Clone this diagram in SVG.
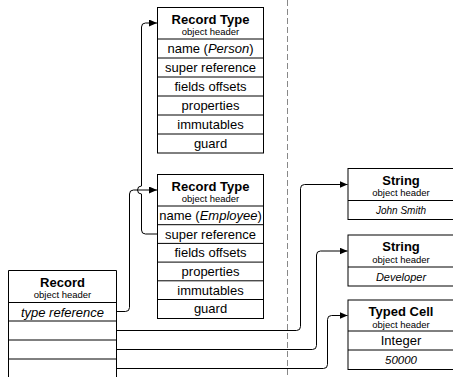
<svg xmlns="http://www.w3.org/2000/svg" width="453" height="377" viewBox="0 0 453 377">
<style>
.box{fill:#fff;stroke:#000;stroke-width:1}
.ln{stroke:#000;stroke-width:1;fill:none}
.t{font-family:"Liberation Sans",Arial,sans-serif;fill:#000;text-anchor:middle}
.h{font-size:13px;font-weight:bold}
.s{font-size:9.5px}
.r{font-size:13px}
.i{font-style:italic}
.c{stroke:#000;stroke-width:1;fill:none;marker-end:url(#arr)}
</style>
<defs>
<marker id="arr" markerWidth="9" markerHeight="8" refX="8" refY="3.5" orient="auto" markerUnits="userSpaceOnUse">
<path d="M0,0 L8,3.5 L0,7 z" fill="#000"/>
</marker>
</defs>
<line x1="287.5" y1="0" x2="287.5" y2="377" stroke="#888" stroke-width="1" stroke-dasharray="6 3"/>

<g id="recordtype-person">
<rect class="box" x="157.5" y="7.5" width="106" height="145.5"/>
<path class="ln" d="M157.5,39 H263.5 M157.5,58 H263.5 M157.5,77 H263.5 M157.5,96 H263.5 M157.5,115 H263.5 M157.5,134 H263.5"/>
<text class="t h" x="210.5" y="23.5">Record Type</text>
<text class="t s" x="210.5" y="35">object header</text>
<text class="t r" x="210.5" y="53">name (<tspan class="i">Person</tspan>)</text>
<text class="t r" x="210.5" y="72">super reference</text>
<text class="t r" x="210.5" y="91">fields offsets</text>
<text class="t r" x="210.5" y="110">properties</text>
<text class="t r" x="210.5" y="129">immutables</text>
<text class="t r" x="210.5" y="148">guard</text>
</g>

<g id="recordtype-employee">
<rect class="box" x="157.5" y="174.5" width="106" height="144"/>
<path class="ln" d="M157.5,206 H263.5 M157.5,224.7 H263.5 M157.5,243.4 H263.5 M157.5,262.1 H263.5 M157.5,280.8 H263.5 M157.5,299.5 H263.5"/>
<text class="t h" x="210.5" y="190.5">Record Type</text>
<text class="t s" x="210.5" y="202">object header</text>
<text class="t r" x="210.5" y="219.9">name (<tspan class="i">Employee</tspan>)</text>
<text class="t r" x="210.5" y="238.6">super reference</text>
<text class="t r" x="210.5" y="257.3">fields offsets</text>
<text class="t r" x="210.5" y="276">properties</text>
<text class="t r" x="210.5" y="294.7">immutables</text>
<text class="t r" x="210.5" y="313.4">guard</text>
</g>

<g id="record">
<path class="box" d="M8.5,378 V270.5 H116.5 V378"/>
<path class="ln" d="M8.5,302.5 H116.5 M8.5,321 H116.5 M8.5,340 H116.5 M8.5,359 H116.5"/>
<text class="t h" x="62.5" y="286.5">Record</text>
<text class="t s" x="62.5" y="298">object header</text>
<text class="t r i" x="62.5" y="316.5">type reference</text>
</g>

<g id="string-john">
<rect class="box" x="348" y="168.5" width="106" height="51"/>
<path class="ln" d="M348,200.5 H454"/>
<text class="t h" x="401" y="184.5">String</text>
<text class="t s" x="401" y="196">object header</text>
<text class="t i" style="font-size:10px" x="401" y="213.5">John Smith</text>
</g>

<g id="string-developer">
<rect class="box" x="348" y="235" width="106" height="51"/>
<path class="ln" d="M348,267 H454"/>
<text class="t h" x="401" y="251">String</text>
<text class="t s" x="401" y="262.5">object header</text>
<text class="t i" style="font-size:11px" x="401" y="280.5">Developer</text>
</g>

<g id="typed-cell">
<rect class="box" x="348" y="300" width="106" height="69.5"/>
<path class="ln" d="M348,331 H454 M348,350 H454"/>
<text class="t h" x="401" y="316">Typed Cell</text>
<text class="t s" x="401" y="327.5">object header</text>
<text class="t r" x="401" y="345">Integer</text>
<text class="t i" style="font-size:11.5px" x="401" y="364">50000</text>
</g>

<g id="connectors">
<path class="c" d="M116.5,311.5 H125.5 Q129.5,311.5 129.5,307.5 V194 Q129.5,190 133.5,190 H157"/>
<path class="c" d="M157.5,234 H145.5 Q141.5,234 141.5,230 V194 A4,4 0 0 1 141.5,186 V27 Q141.5,23 145.5,23 H157"/>
<path class="c" d="M116.5,330.5 H296.5 Q300.5,330.5 300.5,326.5 V188.5 Q300.5,184.5 304.5,184.5 H347.5"/>
<path class="c" d="M116.5,349.5 H312.5 Q316.5,349.5 316.5,345.5 V255 Q316.5,251 320.5,251 H347.5"/>
<path class="c" d="M116.5,368.5 H323.5 Q327.5,368.5 327.5,364.5 V319.5 Q327.5,315.5 331.5,315.5 H347.5"/>
</g>
</svg>
